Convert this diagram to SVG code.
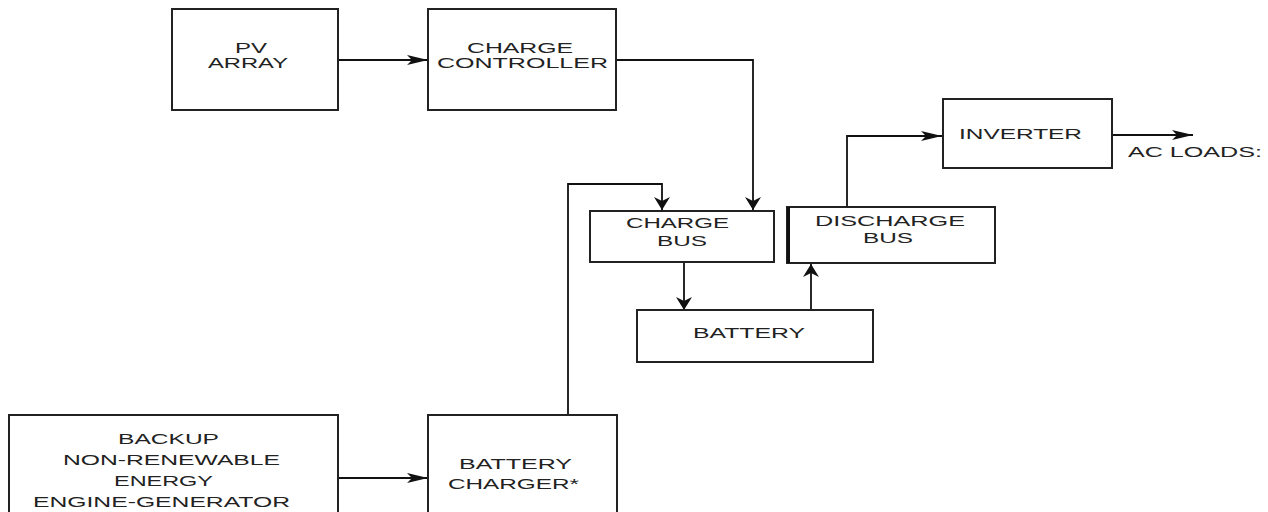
<svg xmlns="http://www.w3.org/2000/svg" width="1268" height="512" viewBox="0 0 1268 512">
<style>
.box{fill:#fff;stroke:#222;stroke-width:2}
.t{font-family:"Liberation Sans",Arial,sans-serif;font-size:15px;fill:#222}
.c{fill:none;stroke:#111;stroke-width:1.8}
</style>
<defs>
<marker id="ah" markerUnits="userSpaceOnUse" markerWidth="24" markerHeight="14" refX="21" refY="6" orient="auto">
<path d="M0,1 L21,6 L0,11 L5,6 Z" fill="#111"/>
</marker>
<marker id="av" markerUnits="userSpaceOnUse" markerWidth="16" markerHeight="20" refX="13" refY="8" orient="auto">
<path d="M0,0 L13,8 L0,16 L4,8 Z" fill="#111"/>
</marker>
</defs>
<rect width="1268" height="512" fill="#fff"/>
<g id="connectors">
<path class="c" d="M338,60 H428" marker-end="url(#ah)"/>
<path class="c" d="M616,60 H753 V210" marker-end="url(#av)"/>
<path class="c" d="M568,415 V184 H662 V210" marker-end="url(#av)"/>
<path class="c" d="M338,478 H428" marker-end="url(#ah)"/>
<path class="c" d="M684,262 V310" marker-end="url(#av)"/>
<path class="c" d="M811,310 V264" marker-end="url(#av)"/>
<path class="c" d="M847,207 V136 H942" marker-end="url(#ah)"/>
<path class="c" d="M1112,135 H1193" marker-end="url(#ah)"/>
</g>
<g id="pv-array">
<rect class="box" x="172" y="9" width="166" height="101"/>
<text class="t" x="235" y="53" textLength="32" lengthAdjust="spacingAndGlyphs">PV</text>
<text class="t" x="208" y="68" textLength="80" lengthAdjust="spacingAndGlyphs">ARRAY</text>
</g>
<g id="charge-controller">
<rect class="box" x="428" y="9" width="188" height="101"/>
<text class="t" x="467" y="53" textLength="106" lengthAdjust="spacingAndGlyphs">CHARGE</text>
<text class="t" x="437" y="68" textLength="171" lengthAdjust="spacingAndGlyphs">CONTROLLER</text>
</g>
<g id="charge-bus">
<rect class="box" x="590" y="211" width="184" height="51"/>
<text class="t" x="626" y="228" textLength="103" lengthAdjust="spacingAndGlyphs">CHARGE</text>
<text class="t" x="657" y="246" textLength="50" lengthAdjust="spacingAndGlyphs">BUS</text>
</g>
<g id="discharge-bus">
<rect class="box" x="787" y="207" width="208" height="56"/>
<line x1="788.5" y1="207" x2="788.5" y2="263" stroke="#111" stroke-width="3"/>
<text class="t" x="815" y="226" textLength="150" lengthAdjust="spacingAndGlyphs">DISCHARGE</text>
<text class="t" x="863" y="243" textLength="50" lengthAdjust="spacingAndGlyphs">BUS</text>
</g>
<g id="inverter">
<rect class="box" x="943" y="99" width="169" height="69"/>
<text class="t" x="959" y="139" textLength="123" lengthAdjust="spacingAndGlyphs">INVERTER</text>
</g>
<g id="ac-loads">
<text class="t" x="1128" y="157" textLength="134" lengthAdjust="spacingAndGlyphs">AC LOADS:</text>
</g>
<g id="battery">
<rect class="box" x="637" y="310" width="236" height="52"/>
<text class="t" x="693" y="338" textLength="112" lengthAdjust="spacingAndGlyphs">BATTERY</text>
</g>
<g id="backup-generator">
<rect class="box" x="9" y="415" width="329" height="110"/>
<text class="t" x="118" y="444" textLength="101" lengthAdjust="spacingAndGlyphs">BACKUP</text>
<text class="t" x="63" y="465" textLength="217" lengthAdjust="spacingAndGlyphs">NON-RENEWABLE</text>
<text class="t" x="114" y="486" textLength="99" lengthAdjust="spacingAndGlyphs">ENERGY</text>
<text class="t" x="33" y="507" textLength="257" lengthAdjust="spacingAndGlyphs" style="font-size:14px">ENGINE-GENERATOR</text>
</g>
<g id="battery-charger">
<rect class="box" x="428" y="415" width="189" height="110"/>
<text class="t" x="459" y="469" textLength="113" lengthAdjust="spacingAndGlyphs">BATTERY</text>
<text class="t" x="448" y="489" textLength="131" lengthAdjust="spacingAndGlyphs">CHARGER*</text>
</g>
</svg>
